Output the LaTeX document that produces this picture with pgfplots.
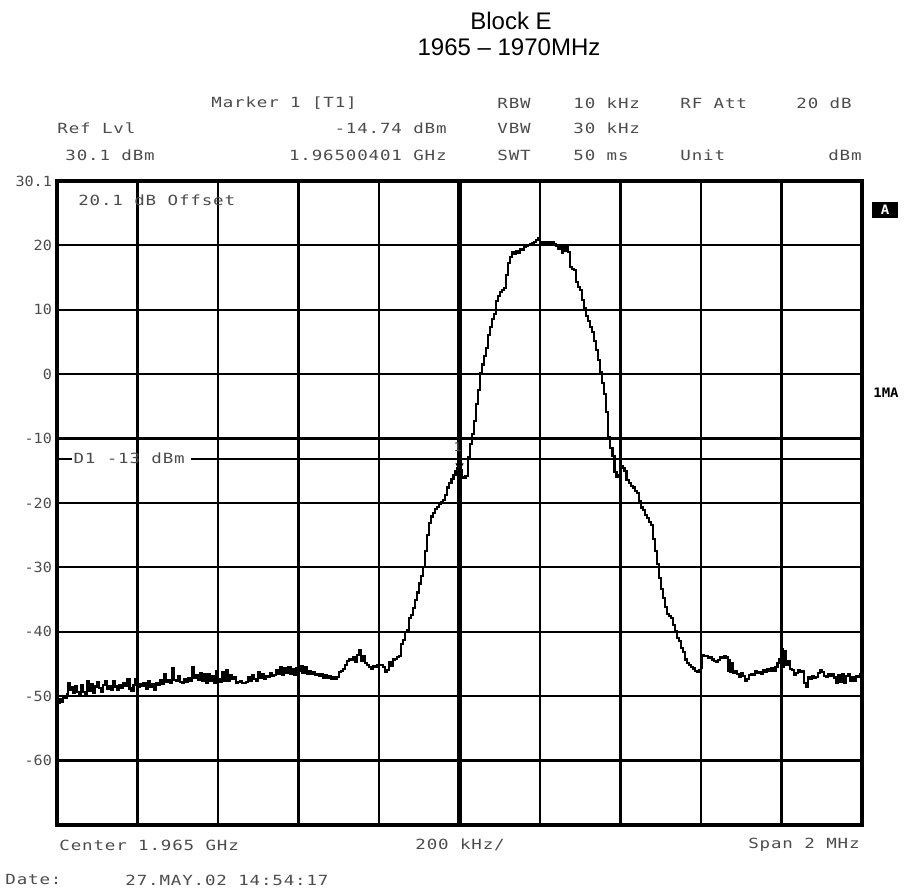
\documentclass[border=0pt]{standalone}
\usepackage{fontspec}
\usepackage{pgfplots}
\pgfplotsset{compat=1.18}
\setmainfont{Liberation Sans}
\newfontfamily\hp[FakeStretch=1.25, LetterSpace=6]{DejaVu Sans Mono}
\newfontfamily\hpt[FakeStretch=1.08]{DejaVu Sans Mono}
\newcommand{\hptext}{\hp\fontsize{7}{8}\selectfont}
\definecolor{hpgray}{gray}{0.3}
\pgfplotstableread{
f p
-1000 -50.6
-996 -50.9
-992 -50.3
-988 -50.8
-984 -49.9
-980 -50.2
-976 -49.6
-972 -47.9
-968 -48.9
-964 -48.5
-960 -49.4
-955 -48.3
-950 -49.2
-945 -49.5
-940 -48.2
-935 -49.3
-930 -49.6
-925 -47.6
-920 -49.1
-915 -48.0
-910 -49.4
-905 -48.4
-900 -47.7
-895 -48.6
-890 -49.3
-885 -48.1
-880 -47.6
-875 -48.8
-870 -48.3
-865 -49.0
-860 -47.5
-855 -48.4
-850 -48.9
-845 -48.2
-840 -48.6
-835 -47.9
-830 -48.3
-825 -47.3
-820 -48.7
-815 -49.1
-810 -48.2
-805 -47.2
-800 -48.5
-795 -48.0
-790 -48.3
-785 -47.8
-780 -48.8
-775 -47.6
-770 -48.5
-765 -48.0
-760 -48.9
-755 -47.9
-750 -48.2
-745 -47.4
-740 -48.0
-735 -46.4
-730 -47.7
-725 -47.4
-720 -47.8
-715 -45.5
-710 -47.4
-705 -47.6
-700 -46.8
-695 -47.7
-690 -47.9
-685 -47.2
-680 -47.7
-675 -47.1
-670 -47.6
-665 -45.3
-660 -47.1
-655 -46.6
-650 -47.4
-645 -46.3
-640 -47.6
-635 -46.5
-630 -47.8
-625 -46.4
-620 -47.5
-615 -46.7
-610 -47.9
-605 -46.0
-600 -47.3
-595 -47.7
-590 -46.2
-585 -47.6
-580 -45.9
-575 -47.5
-570 -46.6
-565 -47.3
-560 -46.9
-555 -47.8
-550 -47.7
-545 -47.6
-540 -47.9
-535 -47.9
-530 -47.7
-525 -47.0
-520 -47.6
-515 -46.6
-510 -47.3
-505 -47.6
-500 -46.2
-495 -47.1
-490 -46.4
-485 -47.2
-480 -46.7
-475 -46.9
-470 -46.3
-465 -46.8
-460 -46.6
-455 -45.9
-450 -46.5
-445 -45.4
-440 -46.6
-435 -45.6
-430 -46.3
-425 -45.3
-420 -46.4
-415 -45.7
-410 -46.6
-405 -45.5
-400 -46.0
-395 -45.2
-390 -46.3
-385 -45.4
-380 -46.5
-375 -46.0
-370 -46.4
-365 -46.2
-360 -46.6
-355 -46.4
-350 -46.7
-345 -46.5
-340 -47.0
-335 -46.6
-330 -47.0
-325 -46.8
-320 -47.2
-315 -46.9
-310 -47.2
-305 -46.9
-300 -46.1
-295 -46.0
-290 -45.7
-285 -45.0
-280 -44.5
-275 -44.1
-270 -44.3
-265 -43.8
-260 -44.6
-255 -43.5
-250 -42.7
-245 -44.4
-240 -43.6
-235 -44.7
-230 -45.0
-225 -45.3
-220 -45.6
-215 -45.2
-210 -45.4
-205 -45.0
-200 -45.1
-195 -45.0
-190 -45.3
-185 -46.1
-180 -45.8
-175 -44.6
-170 -45.2
-165 -44.2
-160 -44.1
-155 -43.8
-150 -43.7
-145 -41.8
-140 -41.2
-135 -40.0
-130 -39.6
-125 -37.7
-120 -37.3
-115 -36.2
-110 -35.0
-105 -33.8
-100 -32.4
-95 -31.2
-90 -29.8
-85 -27.3
-80 -24.9
-75 -23.0
-70 -22.0
-65 -21.4
-60 -20.8
-55 -20.5
-50 -20.0
-45 -19.7
-40 -19.4
-35 -18.6
-30 -17.5
-25 -16.8
-20 -16.2
-15 -15.5
-10 -15.0
-5 -14.5
0 -14.74
5 -15.9
10 -16.0
15 -15.7
20 -12.8
25 -10.8
30 -9.2
35 -7.2
40 -4.6
45 -2.4
50 0.2
55 1.6
60 2.9
65 4.2
70 6.2
75 7.4
80 8.6
85 9.4
90 11.4
95 12.3
100 12.9
105 13.2
110 13.5
115 15.5
120 17.3
125 18.3
130 19.0
135 18.8
140 19.2
145 18.9
150 19.6
155 19.4
160 19.9
165 20.0
170 20.2
175 20.3
180 20.5
185 20.6
190 20.9
195 21.2
200 20.6
205 20.5
210 20.6
215 20.4
220 20.6
225 20.5
230 20.6
235 20.3
240 20.0
245 19.5
250 20.1
255 19.0
258 20.0
262 19.2
266 19.9
270 19.1
275 16.8
280 16.5
285 16.3
290 14.4
295 13.6
300 13.2
305 11.6
310 10.3
315 9.2
320 8.4
325 7.4
330 6.6
335 5.3
340 3.8
345 2.3
350 0.5
355 -1.2
360 -3.0
365 -5.8
370 -9.6
375 -11.3
380 -12.6
385 -15.1
390 -15.9
395 -15.5
400 -14.2
405 -14.4
410 -15.0
415 -16.3
420 -16.8
425 -17.2
430 -17.5
435 -18.0
440 -18.3
445 -19.6
450 -20.6
455 -21.0
460 -21.7
465 -22.2
470 -22.9
475 -23.3
480 -25.5
485 -27.3
490 -29.4
495 -31.5
500 -33.2
505 -34.6
510 -36.0
515 -37.1
520 -37.4
525 -37.7
530 -38.8
535 -39.8
540 -40.9
545 -41.4
550 -42.4
555 -43.0
560 -44.2
565 -44.7
570 -45.0
575 -45.4
580 -45.6
585 -46.0
590 -46.1
595 -45.8
600 -45.5
603 -43.5
608 -43.6
613 -43.7
618 -44.0
623 -43.8
628 -44.2
633 -44.5
638 -44.6
643 -44.3
648 -43.8
653 -44.0
658 -43.7
663 -43.9
667 -46.0
670 -44.3
673 -46.2
676 -44.8
680 -46.3
685 -46.0
690 -46.4
695 -46.9
700 -46.3
705 -46.7
710 -47.5
715 -47.2
720 -46.6
725 -46.4
730 -46.6
735 -46.0
740 -46.3
745 -46.1
750 -46.4
755 -45.8
760 -46.1
765 -45.7
770 -46.0
775 -45.6
780 -46.0
785 -45.3
790 -44.8
795 -44.2
800 -42.6
803 -45.4
806 -42.9
810 -45.0
815 -44.5
820 -45.7
825 -45.9
830 -46.6
835 -46.3
840 -45.8
845 -46.2
850 -46.0
855 -47.9
860 -48.4
865 -47.0
870 -47.2
875 -46.8
880 -47.1
885 -46.9
890 -46.3
895 -45.8
900 -46.2
905 -46.8
910 -46.9
915 -46.4
920 -46.7
925 -46.5
930 -47.0
935 -47.8
940 -46.6
945 -47.7
950 -46.5
955 -47.8
960 -46.7
965 -46.5
970 -47.5
975 -46.9
980 -47.6
985 -46.7
990 -46.9
995 -46.5
1000 -46.2
}\trace
\begin{document}
\begin{tikzpicture}[x=1pt, y=1pt]
\useasboundingbox (-28.5pt,-33.5pt) rectangle (423.5pt,412.5pt);
\begin{axis}[
  at={(0pt,0pt)}, anchor=south west,
  width=402.5pt, height=322pt, scale only axis,
  xmin=-1000, xmax=1000, ymin=-69.9, ymax=30.1,
  xtick={-800,-600,-400,-200,200,400,600,800}, xticklabels={},
  ytick={-59.9,-49.9,-39.9,-29.9,-19.9,-9.9,0.1,10.1,20.1,30.1},
  yticklabels={-60,-50,-40,-30,-20,-10,0,10,20,30.1},
  yticklabel style={font=\hpt\fontsize{7}{8}\selectfont, text=hpgray, xshift=1pt},
  major tick length=0pt,
  grid=major, grid style={black, line width=1.1pt},
  axis line style={black, line width=2pt},
  extra x ticks={0}, extra x tick labels={},
  extra x tick style={grid style={black, line width=2.2pt}},
  clip=true,
]
\addplot[const plot, black, line width=1.05pt] table[x=f, y=p] {\trace};
\draw[black, line width=1pt] (axis cs:-1000,-13) -- (axis cs:-962,-13);
\draw[black, line width=1pt] (axis cs:-668,-13) -- (axis cs:1000,-13);
\node[anchor=west, inner sep=0pt, text=hpgray, font=\hptext] at (axis cs:-960,-13) {D1 -13 dBm};
\node[anchor=west, inner sep=0pt, text=hpgray, font=\hptext] at (axis cs:-948,27.1) {20.1 dB Offset};
\addplot[only marks, mark=triangle*, mark size=2pt, mark options={yshift=2pt, rotate=180, fill=black, draw=black}] coordinates {(0,-14.74)};
\node[text=hpgray, font=\hpt\fontsize{6}{7}\selectfont, inner sep=0pt] at (axis cs:-5,-11.2) {1};
\end{axis}
% header
\begin{scope}[every node/.style={inner sep=0pt, text=hpgray, font=\hptext}]
\node[anchor=west] at (77,361) {Marker 1 [T1]};
\node[anchor=west] at (220,361) {RBW};
\node[anchor=west] at (258,361) {10 kHz};
\node[anchor=west] at (311.5,361) {RF Att};
\node[anchor=east] at (397.5,361) {20 dB};
\node[anchor=west] at (0,348.5) {Ref Lvl};
\node[anchor=east] at (195,348.5) {-14.74 dBm};
\node[anchor=west] at (220,348.5) {VBW};
\node[anchor=west] at (258,348.5) {30 kHz};
\node[anchor=west] at (4,335) {30.1 dBm};
\node[anchor=east] at (195,335) {1.96500401 GHz};
\node[anchor=west] at (220,335) {SWT};
\node[anchor=west] at (258,335) {50 ms};
\node[anchor=west] at (311.5,335) {Unit};
\node[anchor=east] at (402.5,335) {dBm};
\node[anchor=west] at (1,-10) {Center 1.965 GHz};
\node[anchor=west] at (179,-10) {200 kHz/};
\node[anchor=east] at (401.5,-10) {Span 2 MHz};
\node[anchor=west] at (-26,-27.5) {Date:};
\node[anchor=west] at (34,-27.5) {27.MAY.02 14:54:17};
\end{scope}
\node[fill=black, text=white, font=\hpt\bfseries\fontsize{6.5}{7}\selectfont, minimum width=13pt, minimum height=8pt, inner sep=0pt] at (414,307.5) {A};
\node[text=black, font=\hpt\bfseries\fontsize{6.5}{7}\selectfont, inner sep=0pt] at (414.5,216) {1MA};
% title
\node[font=\fontsize{12}{14}\selectfont, align=center] at (227,402) {Block E};
\node[font=\fontsize{12}{14}\selectfont, align=center] at (226,389) {1965 – 1970MHz};
\end{tikzpicture}
\end{document}
